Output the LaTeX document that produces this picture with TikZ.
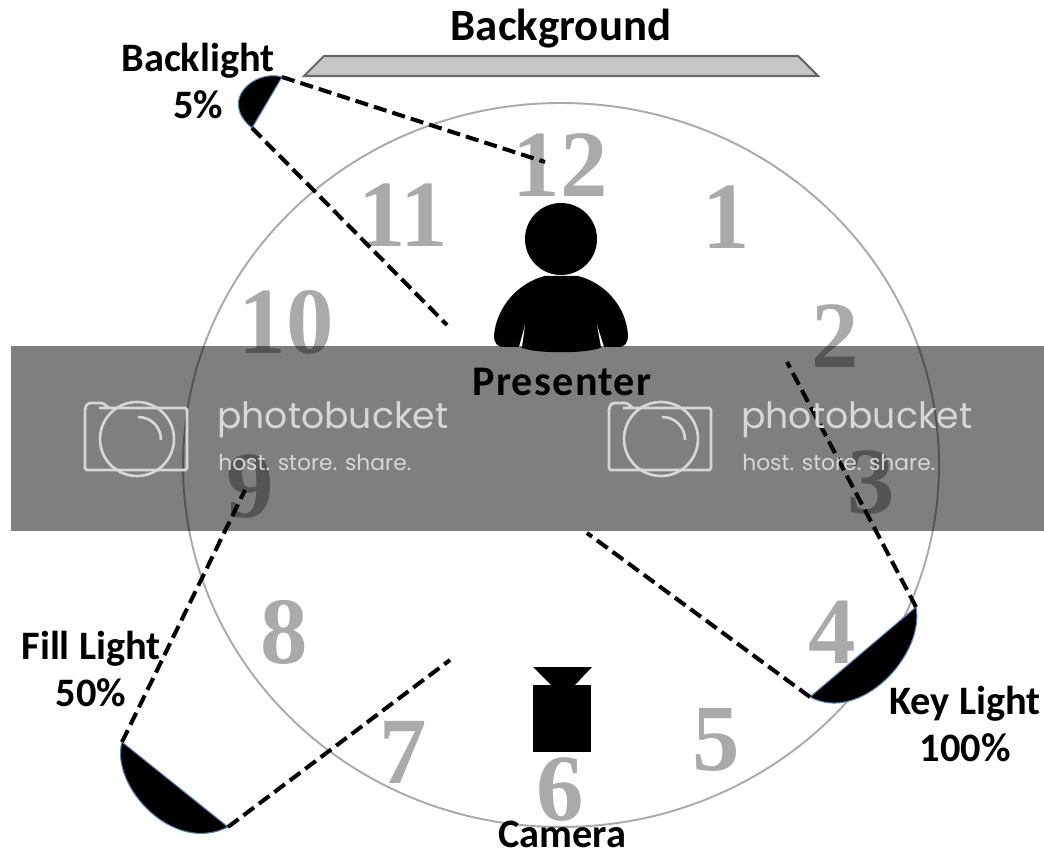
\documentclass[tikz,border=0pt]{standalone}
\usepackage{fontspec}
\setmainfont{Carlito}
\newfontfamily\digitfont{Liberation Serif}
\newfontfamily\markfont{Poppins}
\begin{document}
\begin{tikzpicture}[x=0.02cm,y=-0.02cm,
  hour/.style={font=\digitfont\fontsize{54}{54}\selectfont\bfseries,text=hourgray,inner sep=0pt},
  tag/.style={font=\fontsize{23}{27.3}\selectfont\bfseries,align=center,inner sep=0pt},
  lamp/.style={fill=black,draw=lampblue,line width=0.6pt},
  beam/.style={line width=2.3pt,dash pattern=on 7.5pt off 3.5pt},
  markbig/.style={font=\markfont\fontsize{20.6}{20.6}\selectfont,text=markgray,inner sep=0pt,anchor=west},
  marksmall/.style={font=\markfont\fontsize{12.4}{12.4}\selectfont,text=markgray,inner sep=0pt,anchor=west},
  lens/.style={draw=markgray,line width=1.5pt,rounded corners=1pt}]
\definecolor{hourgray}{RGB}{170,170,170}
\definecolor{lampblue}{RGB}{90,130,180}
\definecolor{markgray}{RGB}{215,215,215}
\useasboundingbox (0,0) rectangle (1044,854);

\draw[draw=hourgray,line width=1.1pt] (561,465) ellipse (378 and 362);

\draw[draw=black!60,fill=black!22,line width=1.2pt] (304,76) -- (324,56) -- (798,56) -- (818,76) -- cycle;
\node[tag,font=\fontsize{25.5}{28}\selectfont\bfseries] (background) at (561,29) {Background};

% clock face
\node[hour] (h12) at (560,165) {12};
\node[hour] (h1) at (726,217) {1};
\node[hour] (h2) at (835,336) {2};
\node[hour] (h3) at (871,483) {3};
\node[hour] (h4) at (832,632) {4};
\node[hour] (h5) at (716,740) {5};
\node[hour] (h6) at (560,790) {6};
\node[hour] (h7) at (403,752) {7};
\node[hour] (h8) at (284,632) {8};
\node[hour] (h9) at (250,487) {9};
\node[hour] (h10) at (286,322) {10};
\node[hour] (h11) at (403,215) {11};

% presenter
\fill (561,239) ellipse (36 and 36);
\fill (494,335) .. controls (497,305) and (520,282) .. (545,276) -- (578,276) .. controls (603,282) and (626,305) .. (628,335) .. controls (628,343) and (625,347) .. (618,347) -- (602,347) .. controls (590,354) and (532,354) .. (520,347) -- (504,347) .. controls (497,347) and (494,343) .. (494,335) -- cycle;
\fill[white] (525,325) -- (519,347) -- (522,347) -- cycle;
\fill[white] (597,325) -- (604,347) -- (601,347) -- cycle;
\node[tag,font=\addfontfeature{LetterSpace=3}\fontsize{24}{27}\selectfont\bfseries] (presenter) at (562,382) {Presenter};

% camera
\fill (533,685) rectangle (591,752);
\fill (533,667) -- (592,667) -- (575,685) -- (551,685) -- cycle;
\node[tag] (camera) at (562,834) {Camera};

% lights
\coordinate (backA) at (282,77);
\coordinate (backB) at (252,128);
\coordinate (fillA) at (122,742);
\coordinate (fillB) at (228,827);
\coordinate (keyA) at (916,607);
\coordinate (keyB) at (810,697);
\draw[lamp] (backA) .. controls (255,69) and (218,100) .. (backB) -- cycle;
\draw[lamp] (fillA) .. controls (110,785) and (172,855) .. (fillB) -- cycle;
\draw[lamp] (keyA) .. controls (925,655) and (860,724) .. (keyB) -- cycle;

\coordinate (backEndA) at (545,162);
\coordinate (backEndB) at (447,325);
\coordinate (fillEndA) at (245,490);
\coordinate (fillEndB) at (450,660);
\coordinate (keyEndA) at (787,362);
\coordinate (keyEndB) at (587,533);
\draw[beam] (backA) -- (backEndA);
\draw[beam] (backB) -- (backEndB);
\draw[beam] (fillA) -- (fillEndA);
\draw[beam] (fillB) -- (fillEndB);
\draw[beam] (keyA) -- (keyEndA);
\draw[beam] (keyB) -- (keyEndB);

\node[tag] (backlabel) at (198,81) {Backlight\\5\%};
\node[tag] (filllabel) at (91,669) {Fill Light\\50\%};
\node[tag] (keylabel) at (965,724) {Key Light\\100\%};

% watermark band
\fill[black,opacity=0.5] (11,346) rectangle (1044,531);
\foreach \wx/\wname in {85/a,609/b} {
  \draw[lens] (\wx+14,408) -- (\wx+102,408) -- (\wx+102,470) -- (\wx,470) -- (\wx,408) -- (\wx+3,403) -- (\wx+18,403) -- (\wx+24,408);
  \draw[lens] (\wx+52,439) circle (37);
  \draw[lens] (\wx+53,417) .. controls (\wx+66,417) and (\wx+76,427) .. (\wx+76,440);
  \node[markbig] (mark\wname) at (\wx+132,420) {photobucket};
  \node[marksmall] (share\wname) at (\wx+133,463) {host. store. share.};
}
\end{tikzpicture}
\end{document}
